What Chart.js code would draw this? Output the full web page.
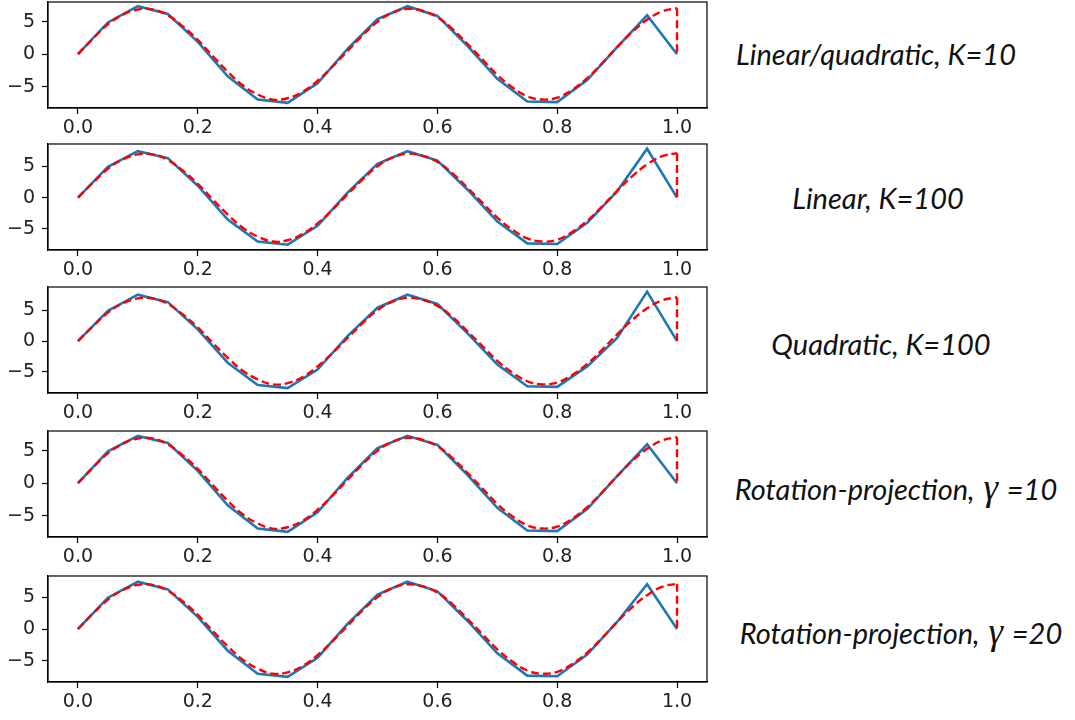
<!DOCTYPE html>
<html>
<head>
<meta charset="utf-8">
<script src="https://cdn.jsdelivr.net/npm/chart.js@4.4.1/dist/chart.umd.min.js"></script>
<style>
  body { margin: 0; background: #fff; width: 1075px; height: 720px; overflow: hidden; position: relative; }
  canvas.panel { position: absolute; left: 0; }
  .label { position: absolute; font-family: Lato, 'Open Sans', sans-serif; font-style: italic; font-size: 29px;
           color: #111; white-space: nowrap; transform: translate(-50%, -50%); }
  .label .g { font-family: 'Liberation Serif', serif; font-style: italic; font-size: 37px; padding: 0 2px; }
</style>
</head>
<body>
<script>
'use strict';

// sample positions of the approximation (blue) and the target curve (red, dashed)
var xSamples = [0, 0.05, 0.1, 0.15, 0.2, 0.25, 0.3, 0.35, 0.4, 0.45, 0.5,
                0.55, 0.6, 0.65, 0.7, 0.75, 0.8, 0.85, 0.9, 0.95, 1.0];

var blueLinQuadK10 = [0, 4.9, 7.4, 6.2, 1.9, -3.4, -7.0, -7.5, -4.5, 0.8, 5.4,
                      7.4, 5.9, 1.3, -3.8, -7.3, -7.4, -4.0, 1.1, 6.0, 0];
var blueLinK100    = [0, 4.9, 7.4, 6.3, 1.9, -3.5, -7.0, -7.5, -4.5, 0.8, 5.4,
                      7.4, 5.9, 1.3, -3.8, -7.3, -7.4, -4.0, 1.0, 7.8, 0];
var blueQuadK100   = [0, 4.9, 7.5, 6.3, 1.9, -3.5, -7.1, -7.6, -4.6, 0.8, 5.4,
                      7.5, 6.0, 1.3, -3.8, -7.3, -7.4, -4.1, 0.5, 8.0, 0];
var blueRot10      = [0, 4.9, 7.3, 6.2, 1.9, -3.4, -7.0, -7.5, -4.5, 0.8, 5.4,
                      7.3, 5.9, 1.3, -3.8, -7.3, -7.4, -4.0, 1.1, 6.0, 0];
var blueRot20      = [0, 4.9, 7.4, 6.2, 1.9, -3.4, -7.0, -7.5, -4.5, 0.8, 5.4,
                      7.4, 5.9, 1.3, -3.8, -7.3, -7.4, -4.0, 1.1, 7.0, 0];

var xFine = [0, 0.025, 0.05, 0.075, 0.1, 0.125, 0.15, 0.175, 0.2, 0.225, 0.25,
             0.275, 0.3, 0.325, 0.35, 0.375, 0.4, 0.425, 0.45, 0.475, 0.5,
             0.525, 0.55, 0.575, 0.6, 0.625, 0.65, 0.675, 0.7, 0.725, 0.75,
             0.775, 0.8, 0.825, 0.85, 0.875, 0.9, 0.925, 0.95, 0.975, 1.0];
var target = [0, 2.4, 4.6, 6.1, 6.9, 6.9, 6.0, 4.3, 2.2, -0.3, -2.7,
              -4.8, -6.2, -7.0, -6.8, -5.8, -4.1, -1.9, 0.5, 2.9, 5.0,
              6.4, 7.0, 6.7, 5.7, 3.9, 1.6, -0.8, -3.2, -5.1, -6.5,
              -7.0, -6.7, -5.5, -3.7, -1.4, 1.1, 3.4, 5.3, 6.6, 7.1];
var targetEnd = 0;   // red drops back to 0 at x = 1.0

var xTicks = [0, 0.2, 0.4, 0.6, 0.8, 1.0];
var yTicks = [-5, 0, 5];

var panels = [
  { blue: blueLinQuadK10, title: 'Linear/quadratic, K=10', top: 2, yMin: -8.3, yMax: 8.05, lx: 876, ly: 53 },
  { blue: blueLinK100, title: 'Linear, K=100', top: 144, yMin: -8.35, yMax: 8.55, lx: 878, ly: 197 },
  { blue: blueQuadK100, title: 'Quadratic, K=100', top: 287, yMin: -8.4, yMax: 8.75, lx: 881, ly: 343 },
  { blue: blueRot10, title: 'Rotation-projection, <span class="g">\u03b3</span> =10', top: 431, yMin: -8.3, yMax: 8.05, lx: 896, ly: 487 },
  { blue: blueRot20, title: 'Rotation-projection, <span class="g">\u03b3</span> =20', top: 576, yMin: -8.3, yMax: 8.3, lx: 901, ly: 631 }
];

var frame = {
  id: 'frame',
  afterDraw: function(chart) {
    var a = chart.chartArea, ctx = chart.ctx;
    ctx.save();
    ctx.strokeStyle = '#000';
    ctx.lineWidth = 1.2;
    ctx.strokeRect(a.left, a.top, a.right - a.left, a.bottom - a.top);
    ctx.restore();
  }
};

function xy(xs, ys) {
  return xs.map(function(x, i) { return { x: x, y: ys[i] }; });
}

function tickFont() {
  return { family: 'DejaVu Sans', size: 19 };
}

panels.forEach(function(p) {
  var canvas = document.createElement('canvas');
  canvas.className = 'panel';
  canvas.width = 720;
  canvas.height = 142;
  canvas.style.top = (p.top - 2) + 'px';
  document.body.appendChild(canvas);

  var label = document.createElement('div');
  label.className = 'label';
  label.innerHTML = p.title;
  label.style.left = p.lx + 'px';
  label.style.top = p.ly + 'px';
  document.body.appendChild(label);

  new Chart(canvas, {
    type: 'line',
    data: {
      datasets: [
        {
          data: xy(xFine, target),
          borderColor: '#ff0000',
          borderWidth: 2.4,
          borderDash: [8, 4],
          pointRadius: 0,
          tension: 0.4,
          fill: false,
        },
        {
          data: [{ x: 1.0, y: target[target.length - 1] }, { x: 1.0, y: targetEnd }],
          borderColor: '#ff0000',
          borderWidth: 2.4,
          borderDash: [8, 4],
          pointRadius: 0,
          tension: 0,
          fill: false,
        },
        {
          data: xy(xSamples, p.blue),
          borderColor: '#1f77b4',
          borderWidth: 2.6,
          pointRadius: 0,
          tension: 0,
          fill: false,
        },
      ],
    },
    options: {
      responsive: false,
      animation: false,
      devicePixelRatio: 1,
      layout: { padding: { top: 2, right: 13, left: 0, bottom: 0 } },
      plugins: { legend: { display: false }, tooltip: { enabled: false } },
      scales: {
        x: {
          type: 'linear',
          min: -0.05,
          max: 1.05,
          afterBuildTicks: function(s) { s.ticks = xTicks.map(function(v) { return { value: v }; }); },
          afterFit: function(s) { s.height = 34; s.paddingLeft = 0; s.paddingRight = 0; },
          ticks: {
            autoSkip: false, maxRotation: 0, padding: 3, color: '#222', font: tickFont(),
            callback: function(v) { return v.toFixed(1); },
          },
          grid: { drawOnChartArea: false, drawTicks: true, tickLength: 6, tickColor: '#000', tickWidth: 1.2 },
          border: { display: true, color: '#000', width: 1.2 },
        },
        y: {
          min: p.yMin,
          max: p.yMax,
          afterBuildTicks: function(s) { s.ticks = yTicks.map(function(v) { return { value: v }; }); },
          afterFit: function(s) { s.width = 48; s.paddingTop = 0; s.paddingBottom = 0; },
          ticks: {
            padding: 7, color: '#222', font: tickFont(),
            callback: function(v) { return v < 0 ? '\u2212' + Math.abs(v) : String(v); },
          },
          grid: { drawOnChartArea: false, drawTicks: true, tickLength: 6, tickColor: '#000', tickWidth: 1.2 },
          border: { display: true, color: '#000', width: 1.2 },
        },
      },
    },
    plugins: [frame],
  });
});
</script>
</body>
</html>
